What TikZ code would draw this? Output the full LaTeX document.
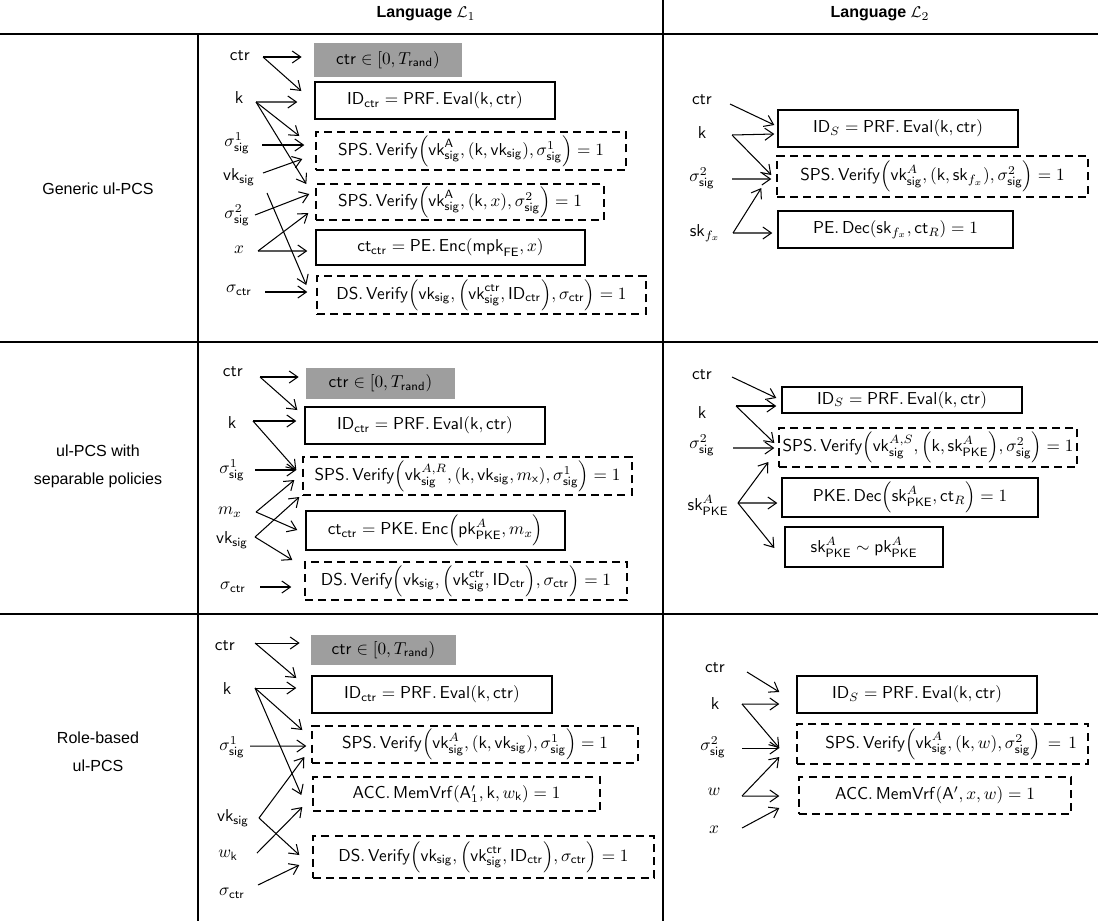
\documentclass[tikz,border=0pt]{standalone}
\usepackage[no-math]{fontspec}
\newfontfamily\arial{Liberation Sans}
\usetikzlibrary{arrows.meta,calc}
\newcommand\sv[1]{\mathsf{#1}}
\newcommand\sg{\mathsf{sig}}
\def\px{0.58pt}
\newcommand\boxat[7]{\node[#1,minimum width={(#4-#2)*\px},minimum height={(#5-#3)*\px}] (#6) at ({(#2+#4)/2},{(#3+#5)/2}) {#7};}
\newcommand\ar[4]{\draw[arr] (#1) -- ([shift={(#3,#4)}]#2.west);}
\begin{document}
\begin{tikzpicture}[x=0.58pt,y=-0.58pt,
  lbl/.style={inner sep=0pt},
  sbox/.style={draw,line width=0.8pt,inner sep=0pt},
  dbox/.style={draw,line width=0.8pt,dash pattern=on 4.6pt off 3pt,inner sep=0pt},
  gbox/.style={fill=black!38,inner sep=0pt},
  arr/.style={line width=0.6pt,-{Straight Barb[length=5pt,width=7pt]}},
  rule/.style={line width=0.9pt},
  hdr/.style={inner sep=0pt,font=\arial\bfseries\fontsize{9.3}{11}\selectfont},
  rowlbl/.style={inner sep=0pt,align=center,font=\arial\fontsize{9.3}{16.3}\selectfont}]
\useasboundingbox (0,0) rectangle (1098,921);
% table rules
\draw[line width=1.2pt] (0,34) -- (1098,34);
\draw[rule] (0,342) -- (1098,342);
\draw[rule] (0,614) -- (1098,614);
\draw[rule] (198,34) -- (198,921);
\draw[rule] (663,0) -- (663,921);
% headers
\node[hdr] (h1) at (426,14) {Language $\mathcal{L}_1$};
\node[hdr] (h2) at (880,14) {Language $\mathcal{L}_2$};
% row labels
\node[rowlbl] (r1) at (98,189) {Generic ul-PCS};
\node[rowlbl] (r2) at (98,466) {ul-PCS with\\separable policies};
\node[rowlbl] (r3) at (98,752) {Role-based\\ul-PCS};

% ================= Row 1, L1
\node[lbl] (a1ctr) at (240,56) {$\sv{ctr}$};
\node[lbl] (a1k) at (239,98) {$\sv{k}$};
\node[lbl] (a1s1) at (237,143) {$\sigma^1_\sg$};
\node[lbl] (a1vk) at (239,177) {$\sv{vk}_\sg$};
\node[lbl] (a1s2) at (237,215) {$\sigma^2_\sg$};
\node[lbl] (a1x) at (239,250) {$x$};
\node[lbl] (a1sc) at (239,290) {$\sigma_{\sv{ctr}}$};
\coordinate (a1ctr-o) at (263,57);
\coordinate (a1k-o) at (256,102);
\coordinate (a1s1-o) at (262,145);
\coordinate (a1vk-o) at (263,173);
\coordinate (a1vk-p) at (267,193);
\coordinate (a1s2-o) at (255,215);
\coordinate (a1x-o) at (258,251);
\coordinate (a1sc-o) at (265,292);
\boxat{gbox}{314}{43}{462}{77}{a1rng}{$\sv{ctr}\in[0,T_{\sv{rand}})$}
\boxat{sbox}{315}{82}{555}{119}{a1id}{$\sv{ID}_{\sv{ctr}}=\sv{PRF}.\,\sv{Eval}(\sv{k},\sv{ctr})$}
\boxat{dbox}{316}{132}{626}{170}{a1sps1}{$\sv{SPS}.\,\sv{Verify}\Big(\sv{vk}^{\sv{A}}_\sg,(\sv{k},\sv{vk}_\sg),\sigma^1_\sg\Big)=1$}
\boxat{dbox}{316}{184}{604}{220}{a1sps2}{$\sv{SPS}.\,\sv{Verify}\Big(\sv{vk}^{\sv{A}}_\sg,(\sv{k},x),\sigma^2_\sg\Big)=1$}
\boxat{sbox}{316}{230}{585}{265}{a1ct}{$\sv{ct}_{\sv{ctr}}=\sv{PE}.\,\sv{Enc}(\sv{mpk}_{\sv{FE}},x)$}
\boxat{dbox}{317}{276}{646}{314}{a1ds}{$\sv{DS}.\,\sv{Verify}\Big(\sv{vk}_\sg,\Big(\sv{vk}^{\sv{ctr}}_\sg,\sv{ID}_{\sv{ctr}}\Big),\sigma_{\sv{ctr}}\Big)=1$}
\ar{a1ctr-o}{a1rng}{-12}{-3}
\ar{a1ctr-o}{a1id}{-13}{-9.5}
\ar{a1k-o}{a1id}{-17}{1.5}
\ar{a1k-o}{a1sps1}{-16}{-15}
\ar{a1k-o}{a1sps2}{-9}{-18}
\ar{a1s1-o}{a1sps1}{-11}{-6}
\ar{a1vk-o}{a1sps1}{-13}{8}
\ar{a1vk-p}{a1ds}{-10}{-10}
\ar{a1s2-o}{a1sps2}{-6}{-8}
\ar{a1x-o}{a1sps2}{-7}{11}
\ar{a1x-o}{a1ct}{-8}{3.5}
\ar{a1sc-o}{a1ds}{-9}{-3}

% ================= Row 1, L2
\node[lbl] (b1ctr) at (702,100) {$\sv{ctr}$};
\node[lbl] (b1k) at (702,133) {$\sv{k}$};
\node[lbl] (b1s2) at (702,178) {$\sigma^2_\sg$};
\node[lbl] (b1sk) at (705,233) {$\sv{sk}_{f_x}$};
\coordinate (b1ctr-o) at (730,104);
\coordinate (b1k-o) at (732,135);
\coordinate (b1s2-o) at (732,179);
\coordinate (b1sk-o) at (733,233);
\boxat{sbox}{778}{110}{1018}{147}{b1id}{$\sv{ID}_S=\sv{PRF}.\,\sv{Eval}(\sv{k},\sv{ctr})$}
\boxat{dbox}{777}{156}{1088}{197}{b1sps}{$\sv{SPS}.\,\sv{Verify}\Big(\sv{vk}^A_\sg,(\sv{k},\sv{sk}_{f_x}),\sigma^2_\sg\Big)=1$}
\boxat{sbox}{778}{211}{1013}{248}{b1dec}{$\sv{PE}.\,\sv{Dec}(\sv{sk}_{f_x},\sv{ct}_R)=1$}
\ar{b1ctr-o}{b1id}{-3}{-3.5}
\ar{b1k-o}{b1id}{-3}{5.5}
\ar{b1k-o}{b1sps}{-5}{-1.5}
\ar{b1s2-o}{b1sps}{-5}{2.5}
\ar{b1sk-o}{b1sps}{-15}{11.5}
\ar{b1sk-o}{b1dec}{-5}{3.5}

% ================= Row 2, L1
\node[lbl] (a2ctr) at (233,372) {$\sv{ctr}$};
\node[lbl] (a2k) at (232,422) {$\sv{k}$};
\node[lbl] (a2s1) at (232,470) {$\sigma^1_\sg$};
\node[lbl] (a2m) at (230,512) {$m_x$};
\node[lbl] (a2vk) at (232,540) {$\sv{vk}_\sg$};
\node[lbl] (a2sc) at (233,587) {$\sigma_{\sv{ctr}}$};
\coordinate (a2ctr-o) at (260,377);
\coordinate (a2k-o) at (253,421);
\coordinate (a2s1-o) at (255,470);
\coordinate (a2m-o) at (256,512);
\coordinate (a2vk-o) at (255,537);
\coordinate (a2sc-o) at (260,587);
\boxat{gbox}{306}{368}{455}{399}{a2rng}{$\sv{ctr}\in[0,T_{\sv{rand}})$}
\boxat{sbox}{305}{407}{545}{444}{a2id}{$\sv{ID}_{\sv{ctr}}=\sv{PRF}.\,\sv{Eval}(\sv{k},\sv{ctr})$}
\boxat{dbox}{303}{457}{632}{495}{a2sps}{$\sv{SPS}.\,\sv{Verify}\Big(\sv{vk}^{A,R}_\sg,(\sv{k},\sv{vk}_\sg,m_{\sv{x}}),\sigma^1_\sg\Big)=1$}
\boxat{sbox}{306}{511}{565}{550}{a2ct}{$\sv{ct}_{\sv{ctr}}=\sv{PKE}.\,\sv{Enc}\Big(\sv{pk}^A_{\sv{PKE}},m_x\Big)$}
\boxat{dbox}{305}{562}{627}{600}{a2ds}{$\sv{DS}.\,\sv{Verify}\Big(\sv{vk}_\sg,\Big(\sv{vk}^{\sv{ctr}}_\sg,\sv{ID}_{\sv{ctr}}\Big),\sigma_{\sv{ctr}}\Big)=1$}
\ar{a2ctr-o}{a2rng}{-7}{-6.5}
\ar{a2ctr-o}{a2id}{-7}{-15.5}
\ar{a2k-o}{a2id}{-8}{-4.5}
\ar{a2k-o}{a2sps}{-6}{-6}
\ar{a2s1-o}{a2sps}{-6}{-6}
\ar{a2m-o}{a2sps}{-8}{4}
\ar{a2m-o}{a2ct}{-8}{-0.5}
\ar{a2vk-o}{a2sps}{-3}{21}
\ar{a2vk-o}{a2ds}{-12}{-21}
\ar{a2sc-o}{a2ds}{-13}{6}

% ================= Row 2, L2
\node[lbl] (b2ctr) at (702,375) {$\sv{ctr}$};
\node[lbl] (b2k) at (702,412) {$\sv{k}$};
\node[lbl] (b2s2) at (702,445) {$\sigma^2_\sg$};
\node[lbl] (b2sk) at (708,505) {$\sv{sk}^A_{\sv{PKE}}$};
\coordinate (b2ctr-o) at (732,377);
\coordinate (b2k-o) at (736,406);
\coordinate (b2s2-o) at (733,448);
\coordinate (b2sk-o) at (738,503);
\boxat{sbox}{782}{387}{1022}{413}{b2id}{$\sv{ID}_S=\sv{PRF}.\,\sv{Eval}(\sv{k},\sv{ctr})$}
\boxat{dbox}{779}{428}{1077}{467}{b2sps}{$\sv{SPS}.\,\sv{Verify}\Big(\sv{vk}^{A,S}_\sg,\Big(\sv{k},\sv{sk}^A_{\sv{PKE}}\Big),\sigma^2_\sg\Big)=1$}
\boxat{sbox}{782}{478}{1038}{517}{b2dec}{$\sv{PKE}.\,\sv{Dec}\Big(\sv{sk}^A_{\sv{PKE}},\sv{ct}_R\Big)=1$}
\boxat{sbox}{785}{527}{943}{567}{b2sim}{$\sv{sk}^A_{\sv{PKE}}\sim\sv{pk}^A_{\sv{PKE}}$}
\ar{b2ctr-o}{b2id}{-5}{-2}
\ar{b2k-o}{b2id}{-5}{6}
\ar{b2k-o}{b2sps}{-4}{-4.5}
\ar{b2s2-o}{b2sps}{-4}{0.5}
\ar{b2sk-o}{b2sps}{-10}{14.5}
\ar{b2sk-o}{b2dec}{-4}{5.5}
\ar{b2sk-o}{b2sim}{-10}{1}

% ================= Row 3, L1
\node[lbl] (a3ctr) at (225,646) {$\sv{ctr}$};
\node[lbl] (a3k) at (227,688) {$\sv{k}$};
\node[lbl] (a3s1) at (232,747) {$\sigma^1_\sg$};
\node[lbl] (a3vk) at (233,818) {$\sv{vk}_\sg$};
\node[lbl] (a3w) at (228,855) {$w_{\sv{k}}$};
\node[lbl] (a3sc) at (232,893) {$\sigma_{\sv{ctr}}$};
\coordinate (a3ctr-o) at (255,643);
\coordinate (a3k-o) at (255,688);
\coordinate (a3s1-o) at (250,746);
\coordinate (a3vk-o) at (259,818);
\coordinate (a3w-o) at (257,853);
\coordinate (a3sc-o) at (258,885);
\boxat{gbox}{311}{635}{456}{665}{a3rng}{$\sv{ctr}\in[0,T_{\sv{rand}})$}
\boxat{sbox}{312}{676}{552}{713}{a3id}{$\sv{ID}_{\sv{ctr}}=\sv{PRF}.\,\sv{Eval}(\sv{k},\sv{ctr})$}
\boxat{dbox}{312}{726}{638}{763}{a3sps}{$\sv{SPS}.\,\sv{Verify}\Big(\sv{vk}^A_\sg,(\sv{k},\sv{vk}_\sg),\sigma^1_\sg\Big)=1$}
\boxat{dbox}{313}{777}{600}{811}{a3acc}{$\sv{ACC}.\,\sv{MemVrf}(\sv{A}'_1,\sv{k},w_{\sv{k}})=1$}
\boxat{dbox}{313}{836}{654}{878}{a3ds}{$\sv{DS}.\,\sv{Verify}\Big(\sv{vk}_\sg,\Big(\sv{vk}^{\sv{ctr}}_\sg,\sv{ID}_{\sv{ctr}}\Big),\sigma_{\sv{ctr}}\Big)=1$}
\ar{a3ctr-o}{a3rng}{-11}{-7}
\ar{a3ctr-o}{a3id}{-15}{-16.5}
\ar{a3k-o}{a3id}{-15}{-6.5}
\ar{a3k-o}{a3sps}{-9}{-14.5}
\ar{a3k-o}{a3acc}{-11}{1}
\ar{a3s1-o}{a3sps}{-5}{1.5}
\ar{a3vk-o}{a3sps}{-7}{12.5}
\ar{a3vk-o}{a3ds}{-13}{-2}
\ar{a3w-o}{a3acc}{-10}{13}
\ar{a3sc-o}{a3ds}{-13}{8}

% ================= Row 3, L2
\node[lbl] (b3ctr) at (715,668) {$\sv{ctr}$};
\node[lbl] (b3k) at (715,703) {$\sv{k}$};
\node[lbl] (b3s2) at (713,747) {$\sigma^2_\sg$};
\node[lbl] (b3w) at (714,792) {$w$};
\node[lbl] (b3x) at (714,830) {$x$};
\coordinate (b3ctr-o) at (747,672);
\coordinate (b3k-o) at (742,704);
\coordinate (b3s2-o) at (742,748);
\coordinate (b3w-o) at (742,796);
\coordinate (b3x-o) at (742,828);
\boxat{sbox}{797}{676}{1037}{713}{b3id}{$\sv{ID}_S=\sv{PRF}.\,\sv{Eval}(\sv{k},\sv{ctr})$}
\boxat{dbox,text width=156pt,align=right}{797}{724}{1088}{764}{b3sps}{$\sv{SPS}.\,\sv{Verify}\Big(\sv{vk}^A_\sg,(\sv{k},w),\sigma^2_\sg\Big)=1$}
\boxat{dbox}{799}{777}{1071}{814}{b3acc}{$\sv{ACC}.\,\sv{MemVrf}(\sv{A}',x,w)=1$}
\ar{b3ctr-o}{b3id}{-17}{-2.5}
\ar{b3k-o}{b3id}{-17}{9.5}
\ar{b3k-o}{b3sps}{-17}{4}
\ar{b3s2-o}{b3sps}{-17}{4}
\ar{b3w-o}{b3sps}{-17}{13}
\ar{b3w-o}{b3acc}{-19}{0.5}
\ar{b3x-o}{b3acc}{-19}{12.5}
\end{tikzpicture}
\end{document}
